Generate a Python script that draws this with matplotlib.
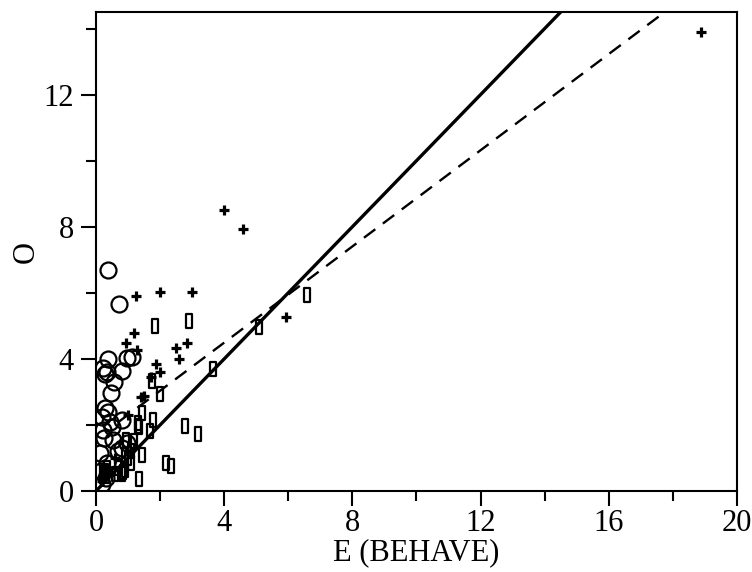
import matplotlib
matplotlib.use("Agg")
import matplotlib.pyplot as plt
import numpy as np
from matplotlib.path import Path

# data
circ_x = [0.37, 0.72, 0.37, 0.97, 1.12, 0.22, 0.34, 0.28, 0.81, 0.56, 0.47, 0.28, 0.37, 0.81,
          0.19, 0.22, 0.50, 0.53, 0.97, 0.12, 0.34, 0.81, 0.15, 0.30, 0.20, 0.45, 0.25, 0.70]
circ_y = [6.70, 5.67, 4.00, 4.03, 4.06, 3.73, 3.60, 3.55, 3.64, 3.30, 2.97, 2.52, 2.38, 2.15,
          2.25, 1.85, 1.94, 1.55, 1.45, 1.15, 0.85, 1.30, 0.60, 0.40, 0.20, 2.10, 1.60, 1.20]

rect_x = [6.58, 5.09, 3.65, 1.84, 2.90, 1.75, 2.00, 1.43, 1.78, 1.68, 2.78, 3.18, 1.43, 2.18,
          2.34, 1.34, 0.94, 1.09, 1.31, 1.31, 1.35, 0.84, 0.90, 0.80, 0.22, 0.28, 0.30, 1.00,
          1.10, 0.70, 0.60, 0.35, 1.20, 0.90]
rect_y = [5.94, 4.97, 3.70, 5.00, 5.15, 3.33, 2.94, 2.36, 2.15, 1.82, 1.97, 1.73, 1.09, 0.85,
          0.76, 0.36, 1.55, 0.85, 1.97, 2.05, 1.95, 0.58, 0.65, 0.50, 0.55, 0.60, 0.45, 1.00,
          1.20, 0.70, 0.50, 0.70, 1.50, 1.10]

plus_x = [18.88, 3.99, 4.59, 1.25, 2.00, 3.00, 1.19, 0.94, 1.28, 2.50, 2.84, 2.59, 1.87, 2.00,
          1.72, 1.40, 1.50, 5.93, 1.00, 0.60, 0.20]
plus_y = [13.88, 8.52, 7.94, 5.91, 6.03, 6.03, 4.79, 4.48, 4.27, 4.33, 4.48, 4.00, 3.85, 3.60,
          3.45, 2.85, 2.88, 5.27, 2.30, 1.00, 0.30]

# 1:1 line and fitted line
line_x = [0, 20]
fit_a, fit_b = 1.58, 0.728
fit_x = [0.7, 20]

plt.rcParams['font.family'] = 'Liberation Serif'

fig = plt.figure(figsize=(7.52, 5.72), dpi=100)
ax = fig.add_axes([0.1277, 0.1416, 0.8523, 0.8374])

rect_marker = Path([(-0.25, -0.5), (0.25, -0.5), (0.25, 0.5), (-0.25, 0.5), (-0.25, -0.5)],
                   [Path.MOVETO, Path.LINETO, Path.LINETO, Path.LINETO, Path.CLOSEPOLY])

ax.plot(line_x, line_x, color='black', lw=2.4, zorder=3)
ax.plot(fit_x, [fit_a + fit_b * v for v in fit_x], color='black', lw=1.7,
        ls=(0, (6, 4)), zorder=3)

ax.plot(circ_x, circ_y, ls='none', marker='o', ms=11.5, mfc='none', mec='black', mew=1.6)
ax.plot(rect_x, rect_y, ls='none', marker=rect_marker, ms=9.5, mfc='none', mec='black', mew=1.6)
ax.plot(plus_x, plus_y, ls='none', marker='+', ms=7.5, mec='black', mew=2.3)

ax.set_xlim(0, 20)
ax.set_ylim(0, 14.5)
ax.set_xticks(np.arange(0, 21, 4))
ax.set_xticks(np.arange(2, 20, 4), minor=True)
ax.set_yticks(np.arange(0, 13, 4))
ax.set_yticks(np.arange(2, 15, 4), minor=True)

for s in ax.spines.values():
    s.set_linewidth(1.5)
ax.tick_params(which='major', direction='out', length=11, width=1.5, labelsize=22, pad=2)
ax.tick_params(which='minor', direction='out', length=7, width=1.5)
ax.tick_params(axis='y', which='major', pad=5)

ax.set_xlabel('E (BEHAVE)', fontsize=22, labelpad=0)
ax.set_ylabel('O', fontsize=22, labelpad=2)

fig.savefig('out.png', dpi=100)
